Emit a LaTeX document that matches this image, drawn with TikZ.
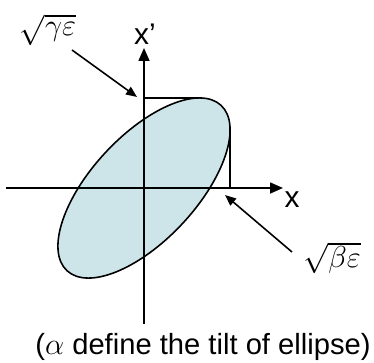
\documentclass[tikz,border=0pt]{standalone}
\usepackage{fontspec}
\setmainfont{Liberation Sans}
\usepackage{amsmath}
\usetikzlibrary{arrows.meta,positioning}
\definecolor{phasefill}{HTML}{CDE5E8}

\begin{document}
\begin{tikzpicture}[x=0.02cm,y=0.02cm,
  axis/.style={-{Triangle[length=2.6mm,width=2.2mm]},line width=0.9pt},
  pointer/.style={-{Triangle[length=2.2mm,width=1.8mm]},line width=0.9pt},
  guide/.style={line width=0.9pt},
  lbl/.style={font=\fontsize{16.6}{20}\selectfont,inner sep=0pt},
  axlbl/.style={font=\fontsize{17}{20}\selectfont,inner sep=0pt},
  mathlbl/.style={font=\fontsize{16.5}{19}\selectfont,inner sep=0pt}
]
\useasboundingbox (-144,-174) rectangle (230,188);
% phase space ellipse
\fill[phasefill] (0,0) ellipse [x radius=113, y radius=52.4, rotate=47];
\coordinate (xw) at (-138,0);
\coordinate (xe) at (139,0);
\coordinate (ys) at (0,-136);
\coordinate (yn) at (0,140);
\draw[axis] (xw) -- (xe);
\draw[axis] (ys) -- (yn);
\draw[guide] (0,0) ellipse [x radius=113, y radius=52.4, rotate=47];
% extent lines
\coordinate (topax) at (0,90);
\coordinate (top) at (54,90);
\coordinate (rgtax) at (86,0);
\coordinate (rgt) at (86,61);
\draw[guide] (topax) -- (top);
\draw[guide] (rgtax) -- (rgt);
% labels
\node[axlbl] (xlab) at (148,-11.5) {x};
\node[axlbl] (xplab) at (1,153.5) {x’};
\node[mathlbl] (gelab) at (-96,158) {$\sqrt{\gamma\varepsilon}$};
\node[mathlbl] (belab) at (188,-70) {$\sqrt{\beta\varepsilon}$};
\coordinate (getail) at (-72,138);
\coordinate (getip) at (-7,91);
\coordinate (betail) at (148,-64);
\coordinate (betip) at (81,-7);
\draw[pointer] (getail) -- (getip);
\draw[pointer] (betail) -- (betip);
\node[lbl] (caption) at (59,-159) {($\alpha$ define the tilt of ellipse)};
\end{tikzpicture}
\end{document}
